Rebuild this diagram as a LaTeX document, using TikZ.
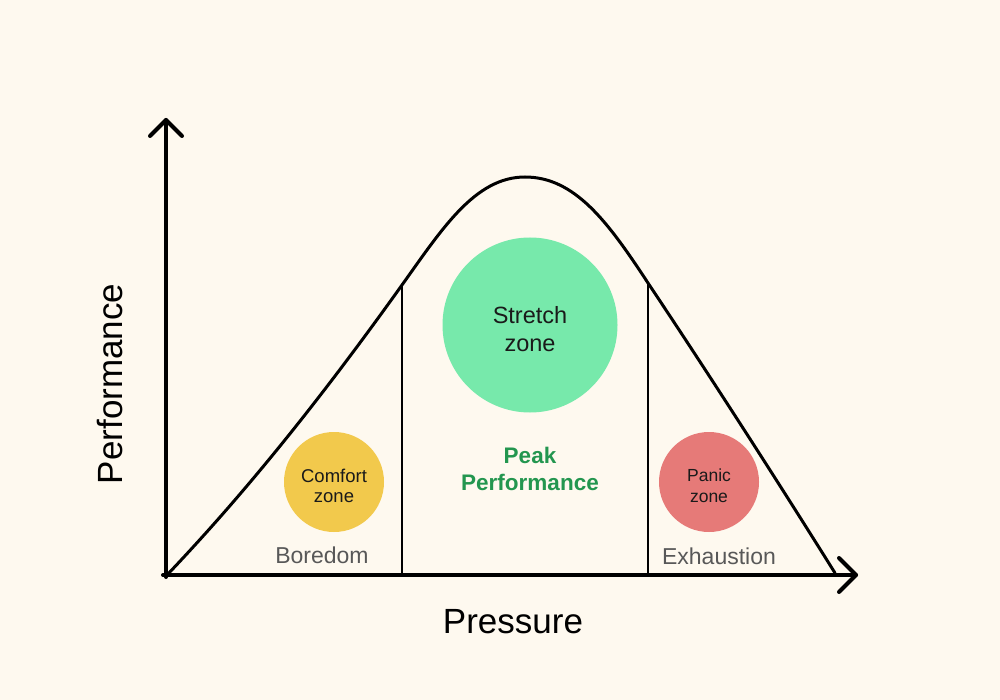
\documentclass[tikz,border=0pt]{standalone}
\usepackage{fontspec}
\setmainfont{Liberation Sans}
\definecolor{bg}{HTML}{FEF9EF}
\definecolor{comfortc}{HTML}{F2C94C}
\definecolor{stretchc}{HTML}{77E9AB}
\definecolor{panicc}{HTML}{E67A78}
\definecolor{peakc}{HTML}{23964F}
\definecolor{grayc}{HTML}{585858}
\definecolor{inkc}{HTML}{1A1A1A}
\tikzset{
  axisline/.style={line width=4pt, line cap=round, line join=round, black},
  curveline/.style={line width=3pt, black, line cap=round},
  divline/.style={line width=1.8pt, black},
  zonecirc/.style={circle, inner sep=0pt},
  zonetext/.style={text=inkc, align=center, inner sep=0pt},
  zonelabel/.style={text=grayc, inner sep=0pt},
}
\begin{document}
\begin{tikzpicture}[x=1pt,y=-1pt]
\useasboundingbox (0,0) rectangle (1000,700);
\fill[bg] (0,0) rectangle (1000,700);
% zone circles
\node[zonecirc, fill=comfortc, minimum size=100pt] (comfort) at (334,482) {};
\node[zonetext, font=\fontsize{18.5}{20}\selectfont] (comforttext) at ([yshift=-4pt]comfort.center) {Comfort\\zone};
\node[zonecirc, fill=stretchc, minimum size=175pt] (stretch) at (530,325) {};
\node[zonetext, font=\fontsize{23.5}{27.5}\selectfont] (stretchtext) at ([yshift=-4pt]stretch.center) {Stretch\\zone};
\node[zonecirc, fill=panicc, minimum size=100pt] (panic) at (709,482) {};
\node[zonetext, font=\fontsize{17.5}{21}\selectfont] (panictext) at ([yshift=-4pt]panic.center) {Panic\\zone};
% peak label
\node[text=peakc, align=center, inner sep=0pt, font=\bfseries\fontsize{22.5}{27}\selectfont] (peak) at (530,469) {Peak\\Performance};
% zone labels
\node[zonelabel, font=\fontsize{23}{27}\selectfont] (boredom) at (322,555) {Boredom};
\node[zonelabel, font=\fontsize{23}{27}\selectfont] (exhaustion) at (719,556) {Exhaustion};
% axis labels
\node[inner sep=0pt, font=\fontsize{35}{40}\selectfont] (pressure) at (513,622) {Pressure};
\node[inner sep=0pt, rotate=90, font=\fontsize{35}{40}\selectfont] (performance) at (110,384) {Performance};
% divider lines
\coordinate (d1top) at (402,285);
\coordinate (d1bot) at (402,575);
\coordinate (d2top) at (648,283);
\coordinate (d2bot) at (648,575);
\draw[divline] (d1top) -- (d1bot);
\draw[divline] (d2top) -- (d2bot);
% curve
\coordinate (cstart) at (167,575);
\coordinate (cpeak) at (525,177);
\coordinate (cend) at (835,573);
\draw[curveline] (cstart) .. controls (247,491) and (322,397) .. (d1top)
  .. controls (442,229) and (475,177) .. (cpeak)
  .. controls (575,177) and (608,222) .. (d2top)
  .. controls (708,373) and (775,477) .. (cend);
% axes
\coordinate (origin) at (166,577);
\coordinate (ytip) at (166,120);
\coordinate (xstart) at (163,575);
\coordinate (xtip) at (856,575);
\draw[axisline] (origin) -- (ytip);
\draw[axisline] (xstart) -- (xtip);
\draw[axisline] ([shift={(-16,16)}]ytip) -- (ytip) -- ([shift={(16,16)}]ytip);
\draw[axisline] ([shift={(-17,-17)}]xtip) -- (xtip) -- ([shift={(-17,17)}]xtip);
\end{tikzpicture}
\end{document}
